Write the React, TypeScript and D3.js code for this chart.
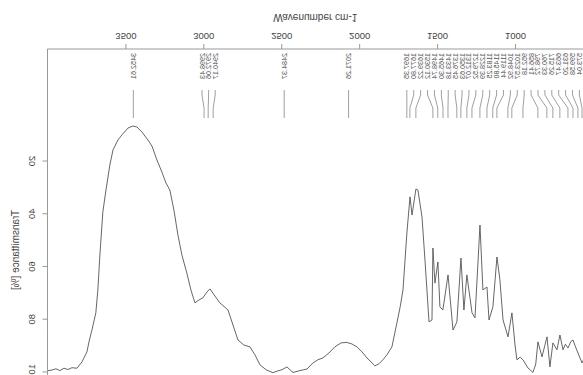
import React from 'react'
import * as d3 from 'd3'

// IR spectrum (wavenumber in cm-1, transmittance in %)
const WAVENUMBER = [
  4000, 3975, 3949, 3924, 3898, 3872, 3846, 3814, 3782, 3750,
  3737, 3718, 3693, 3680, 3667, 3648, 3628, 3603, 3583, 3551,
  3526, 3487, 3455, 3429, 3397, 3359, 3333, 3301, 3269, 3243,
  3218, 3192, 3166, 3141, 3109, 3083, 3057, 3031, 3006, 2980,
  2961, 2929, 2897, 2845, 2813, 2781, 2743, 2704, 2672, 2640,
  2600, 2557, 2525, 2499, 2467, 2428, 2390, 2338, 2300, 2268,
  2236, 2197, 2159, 2120, 2082, 2050, 2017, 1985, 1953, 1902,
  1876, 1851, 1825, 1793, 1761, 1740, 1722, 1697, 1677, 1664,
  1639, 1626, 1600, 1581, 1555, 1536, 1530, 1517, 1498, 1485,
  1466, 1433, 1401, 1376, 1350, 1331, 1312, 1279, 1260, 1228,
  1209, 1183, 1170, 1145, 1119, 1100, 1080, 1048, 1023, 1003,
  991, 970, 952, 920, 888, 870, 856, 830, 812, 798,
  779, 760, 734, 715, 695, 680, 663, 645, 631, 615,
  599, 573, 545, 522, 490, 458, 430, 400,
]
const TRANSMITTANCE = [
  99.5, 99.3, 98.8, 99.5, 98.6, 99.1, 98.4, 98.6, 96.2, 92.4,
  88.6, 84.1, 77.6, 68.9, 55.6, 39.3, 31.0, 21.5, 15.8, 12.0,
  10.1, 7.5, 6.7, 7.1, 9.0, 12.0, 14.3, 19.6, 24.2, 28.3,
  31.0, 38.6, 48.1, 55.6, 62.5, 68.9, 73.8, 72.7, 71.9, 69.7,
  68.5, 71.2, 73.8, 76.5, 82.2, 87.9, 89.8, 90.5, 93.5, 97.3,
  99.2, 100.3, 99.6, 99.2, 98.1, 100.2, 99.6, 98.9, 96.6, 95.4,
  94.7, 92.8, 90.5, 89.0, 88.8, 89.4, 90.5, 92.4, 94.7, 97.7,
  96.9, 95.4, 93.5, 90.5, 81.4, 75.3, 68.9, 47.3, 33.6, 40.5,
  30.6, 31.0, 41.2, 57.5, 81.0, 80.3, 53.0, 66.3, 58.3, 75.3,
  76.5, 63.2, 84.1, 81.0, 56.8, 76.5, 63.2, 77.6, 79.5, 44.3,
  68.9, 67.8, 80.3, 75.3, 56.4, 65.1, 80.3, 86.7, 77.6, 89.8,
  95.4, 94.4, 95.4, 98.5, 100.2, 97.0, 88.6, 94.3, 90.0, 86.7,
  98.1, 89.0, 91.6, 86.0, 91.6, 89.5, 90.9, 88.5, 87.9, 90.5,
  92.8, 96.6, 93.0, 91.6, 94.0, 89.8, 92.5, 95.0,
]

// labelled absorption peaks (cm-1)
const PEAKS = [
  3452.61, 2998.43, 2972.06, 2940.17, 2484.37, 2071.26,
  1697.35, 1677.8, 1639.22, 1530.12, 1498.74, 1465.3, 1433.18, 1376.45,
  1350.63, 1312.07, 1279.52, 1228.39, 1183.25, 1145.8, 1119.44, 1048.92,
  1023.57, 952.18, 856.41, 798.72, 760.33, 715.26, 663.47, 631.2,
  599.58, 573.04, 545.69,
]

const X_TICKS = [3500, 3000, 2500, 2000, 1500, 1000]
const Y_TICKS = [20, 40, 60, 80, 100, 120]

const W = 583
const H = 375
const FONT = '"Liberation Sans", Arial, sans-serif'

// spread crowded labels evenly over their cluster
function layoutLabels(px: number[], minGap: number, joinDist: number) {
  const out: number[] = []
  let start = 0
  for (let i = 1; i <= px.length; i++) {
    if (i === px.length || px[i] - px[i - 1] > joinDist) {
      const n = i - start
      const first = px[start]
      const last = px[i - 1]
      if (n === 1) {
        out.push(first)
      } else {
        const gap = Math.max(minGap, (last - first) / (n - 1))
        const mid = (first + last) / 2
        const s = mid - (gap * (n - 1)) / 2
        for (let k = 0; k < n; k++) out.push(s + k * gap)
      }
      start = i
    }
  }
  return out
}

export default function App() {
  const plotLeft = 47.5
  const plotRight = W
  const axisY = 326

  const x = d3.scaleLinear().domain([4000, 400]).range([48, 609])
  const y = d3.scaleLinear().domain([-22.5, 130]).range([axisY, -76])

  const data = WAVENUMBER.map((w, i) => [w, TRANSMITTANCE[i]] as [number, number])
  const line = d3.line<[number, number]>()
    .x(d => x(d[0]))
    .y(d => y(d[1]))

  const peakX = PEAKS.map(p => x(p))
  const labelX = layoutLabels(peakX, 6.6, 20)

  const textCol = '#444'
  const axisCol = '#999'

  return (
    <svg width={W} height={H} style={{ position: 'absolute', left: 0, top: 0, background: '#fff' }}>
      {/* the reference is drawn mirrored top-to-bottom */}
      <g transform={`translate(0,${H}) scale(1,-1)`} fontFamily={FONT}>
        {/* spectrum */}
        <path d={line(data) || ''} fill="none" stroke="#555" strokeWidth={0.9} />

        {/* x axis */}
        <line x1={plotLeft} x2={plotRight} y1={axisY} y2={axisY} stroke={axisCol} strokeWidth={1} />
        {X_TICKS.map(t => (
          <g key={t}>
            <line x1={x(t)} x2={x(t)} y1={axisY} y2={axisY + 5} stroke={axisCol} />
            <text x={x(t)} y={axisY + 16} fontSize={9.5} fill={textCol} textAnchor="middle">{t}</text>
          </g>
        ))}
        <text x={(plotLeft + plotRight) / 2} y={axisY + 35} fontSize={10} fill={textCol} textAnchor="middle">
          Wavenumber cm-1
        </text>

        {/* y axis */}
        <line x1={plotLeft} x2={plotLeft} y1={axisY} y2={-80} stroke={axisCol} strokeWidth={1} />
        {Y_TICKS.map(t => (
          <g key={t}>
            <line x1={plotLeft - 5} x2={plotLeft} y1={y(t)} y2={y(t)} stroke={axisCol} />
            <text
              transform={`translate(${plotLeft - 13},${y(t)}) rotate(-90)`}
              fontSize={9.5}
              fill={textCol}
              textAnchor="middle"
            >{t}</text>
          </g>
        ))}
        <text
          transform={`translate(19,${(axisY - 76) / 2}) rotate(-90)`}
          fontSize={10}
          fill={textCol}
          textAnchor="middle"
        >Transmittance [%]</text>

        {/* peak annotations */}
        {PEAKS.map((p, i) => {
          const lx = labelX[i]
          const px = peakX[i]
          return (
            <g key={p}>
              <path
                d={`M${lx},285 L${lx},280 L${px},267 L${px},257`}
                fill="none"
                stroke="#888"
                strokeWidth={0.8}
              />
              <text
                transform={`translate(${lx + 2.5},322) rotate(-90)`}
                fontSize={7.2}
                fill="#555"
              >{p.toFixed(2)}</text>
            </g>
          )
        })}
      </g>
    </svg>
  )
}
